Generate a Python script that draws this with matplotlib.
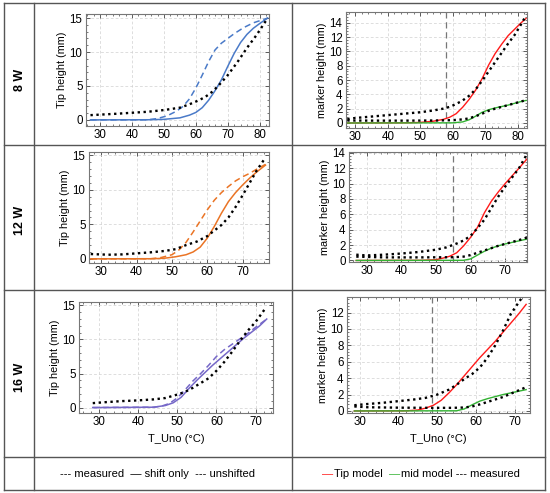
import numpy as np
import matplotlib.pyplot as plt
from matplotlib.lines import Line2D
from matplotlib.ticker import MultipleLocator

plt.rcParams['font.family'] = ['Liberation Sans', 'DejaVu Sans']

# ---- 8 W ----
meas8_x = [27, 35, 40, 45, 50, 55, 58, 61, 63, 65, 67, 70, 73, 76, 79, 82.5]
meas8_y = [0.7, 0.9, 1.05, 1.2, 1.45, 1.8, 2.3, 2.9, 3.4, 4.1, 5.0, 6.6, 8.5, 10.6, 12.5, 15.0]
shift8_x = [27, 45, 50, 55, 58, 60, 62, 64, 66, 68, 70, 72, 74, 76, 78, 80, 82.5]
shift8_y = [0, 0.02, 0.08, 0.3, 0.7, 1.1, 1.8, 2.9, 4.3, 5.9, 7.9, 9.8, 11.4, 12.6, 13.5, 14.2, 15.0]
unsh8_x = [27, 45, 48, 51, 54, 56, 58, 60, 62, 64, 66, 68, 70, 72, 75, 78, 82.5]
unsh8_y = [0, 0.02, 0.2, 0.6, 1.3, 2.0, 3.1, 4.7, 6.6, 8.6, 10.3, 11.3, 12.0, 12.7, 13.6, 14.3, 15.0]

tip8m_x = [27.5, 30, 35, 40, 45, 50, 54, 57, 59, 61, 63, 65, 67, 69, 71, 73, 75, 77, 79, 81, 82.5]
tip8m_y = [0.55, 0.7, 0.9, 1.1, 1.3, 1.5, 1.75, 2.0, 2.25, 2.65, 3.15, 3.8, 4.7, 5.9, 7.2, 8.5, 9.8, 11.1, 12.3, 13.8, 15.0]
tip8mod_x = [27.5, 45, 50, 54, 57, 59, 61, 63, 65, 67, 69, 71, 73, 75, 77, 79, 81, 82.5]
tip8mod_y = [0, 0.02, 0.08, 0.25, 0.5, 0.8, 1.3, 2.2, 3.3, 4.6, 6.2, 8.1, 9.7, 11.0, 12.2, 13.1, 14.0, 14.6]
mid8m_x = [27.5, 35, 45, 55, 60, 63, 65, 67, 69, 71, 73, 75, 77, 79, 81, 82.5]
mid8m_y = [0.35, 0.33, 0.33, 0.35, 0.4, 0.5, 0.65, 0.95, 1.3, 1.7, 2.0, 2.25, 2.5, 2.75, 3.0, 3.2]
mid8mod_x = [27.5, 60, 63, 65, 67, 69, 71, 73, 75, 77, 79, 81, 82.5]
mid8mod_y = [0, 0.02, 0.15, 0.45, 0.95, 1.5, 1.85, 2.1, 2.3, 2.5, 2.75, 3.0, 3.15]
vline8 = 58

# ---- 12 W ----
meas12_x = [27, 32, 36, 40, 44, 48, 51, 54, 57, 60, 62, 64, 66, 68, 70, 72, 74, 76.5]
meas12_y = [0.7, 0.6, 0.65, 0.8, 0.95, 1.15, 1.4, 2.0, 2.5, 3.3, 4.1, 4.9, 6.0, 7.5, 9.2, 11.0, 12.8, 14.7]
shift12_x = [27, 45, 48, 51, 54, 56, 58, 60, 62, 64, 66, 68, 70, 72, 74, 76.5]
shift12_y = [0, 0.02, 0.1, 0.3, 0.6, 1.0, 1.7, 3.0, 4.7, 6.6, 8.3, 9.6, 10.7, 11.7, 12.6, 13.6]
unsh12_x = [27, 44, 47, 50, 52, 54, 56, 58, 60, 62, 64, 66, 68, 70, 72, 74, 76.5]
unsh12_y = [0, 0.02, 0.2, 0.6, 1.3, 2.4, 3.9, 5.5, 7.1, 8.5, 9.6, 10.5, 11.3, 11.9, 12.4, 13.0, 13.7]

tip12m_x = [27, 30, 35, 40, 45, 50, 53, 56, 58, 60, 62, 64, 66, 68, 70, 72, 74, 76.5]
tip12m_y = [0.75, 0.65, 0.75, 0.9, 1.1, 1.4, 1.7, 2.2, 2.6, 3.2, 4.2, 5.3, 6.8, 8.3, 9.6, 10.8, 12.0, 14.0]
tip12mod_x = [27, 46, 50, 52, 54, 56, 58, 60, 62, 64, 66, 68, 70, 72, 74, 76.5]
tip12mod_y = [0, 0.02, 0.1, 0.3, 0.55, 1.0, 1.9, 3.0, 4.3, 6.2, 7.7, 8.9, 10.0, 11.0, 12.0, 13.3]
mid12m_x = [27, 35, 45, 55, 58, 60, 62, 64, 66, 68, 70, 72, 74, 76.5]
mid12m_y = [0.5, 0.4, 0.4, 0.42, 0.5, 0.7, 1.0, 1.3, 1.6, 1.9, 2.15, 2.4, 2.65, 3.0]
mid12mod_x = [27, 58, 60, 62, 64, 66, 68, 70, 72, 74, 76.5]
mid12mod_y = [0, 0.02, 0.2, 0.7, 1.2, 1.6, 1.9, 2.15, 2.35, 2.55, 2.8]
vline12 = 55

# ---- 16 W ----
meas16_x = [28.5, 32, 36, 40, 44, 47, 50, 52, 54, 56, 58, 60, 62, 64, 66, 68, 70, 72.5]
meas16_y = [0.65, 0.8, 0.95, 1.05, 1.2, 1.4, 1.9, 2.3, 2.9, 3.6, 4.3, 5.4, 6.7, 8.2, 9.8, 11.3, 12.6, 14.6]
shift16_x = [28.5, 44, 47, 49, 51, 53, 55, 57, 59, 61, 63, 65, 67, 69, 71, 72.8]
shift16_y = [0, 0.05, 0.3, 0.7, 1.5, 2.8, 4.0, 5.1, 6.2, 7.2, 8.2, 9.2, 10.2, 11.1, 12.0, 13.0]
unsh16_x = [28.5, 44, 46, 48, 50, 52, 54, 56, 58, 60, 62, 64, 66, 68, 70, 72.8]
unsh16_y = [0, 0.05, 0.2, 0.6, 1.4, 2.6, 3.9, 5.0, 6.2, 7.5, 8.5, 9.3, 10.1, 10.9, 11.8, 13.0]

tip16m_x = [28.5, 32, 36, 40, 44, 47, 50, 53, 55, 57, 59, 61, 63, 65, 67, 69, 71, 72.5]
tip16m_y = [0.7, 0.85, 1.0, 1.2, 1.4, 1.6, 2.0, 2.6, 3.2, 3.9, 4.5, 5.3, 6.5, 8.0, 9.8, 11.8, 13.2, 14.2]
tip16mod_x = [28.5, 42, 45, 47, 49, 51, 53, 55, 57, 59, 61, 63, 65, 67, 69, 71, 73]
tip16mod_y = [0, 0.02, 0.12, 0.35, 0.7, 1.3, 2.2, 3.2, 4.3, 5.4, 6.5, 7.5, 8.5, 9.6, 10.7, 11.8, 13.0]
mid16m_x = [28.5, 32, 40, 48, 54, 57, 59, 61, 63, 65, 67, 69, 71, 73]
mid16m_y = [0.55, 0.45, 0.4, 0.38, 0.38, 0.42, 0.55, 0.8, 1.1, 1.4, 1.7, 2.1, 2.5, 2.9]
mid16mod_x = [28.5, 55, 57, 59, 61, 63, 65, 67, 69, 71, 73]
mid16mod_y = [0, 0.02, 0.25, 0.75, 1.2, 1.5, 1.75, 2.0, 2.2, 2.4, 2.6]
vline16 = 48.5

W, H = 550, 493
fig = plt.figure(figsize=(W / 100, H / 100), dpi=100)


def add_ax(left, right, top, bottom):
    return fig.add_axes([left / W, 1 - bottom / H, (right - left) / W, (bottom - top) / H])


def style(ax, xlim, ylim, ystep, ylabel, xlabel=None):
    ax.set_xlim(*xlim)
    ax.set_ylim(*ylim)
    ax.xaxis.set_major_locator(MultipleLocator(10))
    ax.xaxis.set_minor_locator(MultipleLocator(2))
    ax.yaxis.set_major_locator(MultipleLocator(ystep))
    ax.yaxis.set_minor_locator(MultipleLocator(ystep / 5))
    ax.tick_params(which='both', direction='in', top=True, right=True, labelsize=8.3, colors='#444444',
                   labelcolor='black', pad=2.5)
    ax.tick_params(which='major', length=3, width=0.6)
    ax.tick_params(which='minor', length=1.5, width=0.5)
    ax.grid(True, which='major', ls=(0, (4, 3)), lw=0.5, color='#d0d0d0')
    for s in ax.spines.values():
        s.set_color('#777777')
        s.set_linewidth(0.8)
    ax.set_ylabel(ylabel, fontsize=7.8, labelpad=2)
    if xlabel:
        ax.set_xlabel(xlabel, fontsize=8, labelpad=4)


dots = dict(color='black', lw=1.7, ls=(0, (1, 1.5)))

# left column: tip height
left_sets = [
    ((86, 269, 14, 126), (25.6, 82.9), (-0.9, 15.6), '#4a7ac8', meas8_x, meas8_y, shift8_x, shift8_y, unsh8_x, unsh8_y, None),
    ((89, 269, 152, 263), (26.5, 77.5), (-0.6, 15.5), '#ea7425', meas12_x, meas12_y, shift12_x, shift12_y, unsh12_x, unsh12_y, None),
    ((79, 273, 302, 413), (25.0, 74.4), (-0.8, 15.5), '#7668c8', meas16_x, meas16_y, shift16_x, shift16_y, unsh16_x, unsh16_y, 'T_Uno (°C)'),
]
for pos, xl, yl, col, mx, my, sx, sy, ux, uy, xlab in left_sets:
    ax = add_ax(*pos)
    ax.plot(sx, sy, color=col, lw=1.1)
    ax.plot(ux, uy, color=col, lw=1.1, ls=(0, (4, 2.5)))
    ax.plot(mx, my, **dots)
    style(ax, xl, yl, 5, 'Tip height (mm)', xlab)

# right column: marker height
right_sets = [
    ((346, 527, 12, 128), (27.1, 82.8), (-0.7, 15.5), 2, vline8, tip8m_x, tip8m_y, tip8mod_x, tip8mod_y, mid8m_x, mid8m_y, mid8mod_x, mid8mod_y, None),
    ((349, 527, 152, 262), (24.9, 76.3), (-0.2, 14.1), 2, vline12, tip12m_x, tip12m_y, tip12mod_x, tip12mod_y, mid12m_x, mid12m_y, mid12mod_x, mid12mod_y, None),
    ((347, 530, 297, 413), (26.6, 74.0), (-0.25, 13.9), 2, vline16, tip16m_x, tip16m_y, tip16mod_x, tip16mod_y, mid16m_x, mid16m_y, mid16mod_x, mid16mod_y, 'T_Uno (°C)'),
]
for pos, xl, yl, ys, vx, tmx, tmy, tdx, tdy, mmx, mmy, mdx, mdy, xlab in right_sets:
    ax = add_ax(*pos)
    ax.axvline(vx, color='#777777', lw=0.9, ls=(0, (5, 3)))
    ax.plot(tdx, tdy, color='#ff1a1a', lw=1.0)
    ax.plot(mdx, mdy, color='#33b233', lw=1.0)
    ax.plot(tmx, tmy, **dots)
    ax.plot(mmx, mmy, **dots)
    style(ax, xl, yl, ys, 'marker height (mm)', xlab)

# table borders
grid_col = '#555555'
for y in [3, 145, 290, 457, 490]:
    fig.add_artist(Line2D([4 / W, 545 / W], [1 - y / H, 1 - y / H], color=grid_col, lw=1.0))
for x in [4, 34, 292, 545]:
    fig.add_artist(Line2D([x / W, x / W], [1 - 3 / H, 1 - 490 / H], color=grid_col, lw=1.0))

# row labels
for lab, yy in [('8 W', 80), ('12 W', 220), ('16 W', 377)]:
    fig.text(20 / W, 1 - yy / H, lab, rotation=90, fontsize=9, fontweight='bold', ha='center', va='center')

# legend row
ly = 1 - 474 / H
fig.text(157 / W, ly, '--- measured  \u2014 shift only  --- unshifted', fontsize=8, ha='center', va='center')
fig.text(322 / W, ly, '\u2014', color='#ff1a1a', fontsize=8, ha='left', va='center')
fig.text(334 / W, ly, 'Tip model', fontsize=8, ha='left', va='center')
fig.text(389 / W, ly, '\u2014', color='#33b233', fontsize=8, ha='left', va='center')
fig.text(401 / W, ly, 'mid model --- measured', fontsize=8, ha='left', va='center')

fig.savefig('out.png', dpi=100)
